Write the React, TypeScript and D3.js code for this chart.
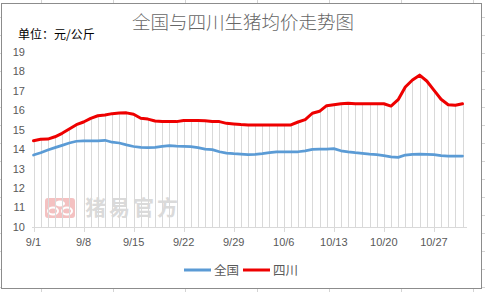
import React from "react";
import * as d3 from "d3";

const title = "全国与四川生猪均价走势图";
const unitLabel = "单位：元/公斤";
const seriesNames = ["全国", "四川"];
const seriesColors = ["#5b9bd5", "#ee0000"];
const startDate = "2017-09-01";
const endDate = "2017-11-01"; // exclusive

const nationalValues = [
  13.70, 13.82, 13.96, 14.08, 14.20, 14.32, 14.41, 14.43, 14.43, 14.43,
  14.46, 14.36, 14.32, 14.22, 14.14, 14.10, 14.08, 14.10, 14.15, 14.18,
  14.16, 14.15, 14.13, 14.08, 14.01, 13.98, 13.87, 13.80, 13.77, 13.75,
  13.72, 13.74, 13.77, 13.82, 13.86, 13.86, 13.87, 13.87, 13.92, 13.99,
  14.01, 14.01, 14.03, 13.92, 13.86, 13.82, 13.79, 13.75, 13.72, 13.67,
  13.61, 13.58, 13.70, 13.74, 13.75, 13.74, 13.72, 13.67, 13.65, 13.65,
  13.65,
];

const sichuanValues = [
  14.44, 14.51, 14.52, 14.64, 14.82, 15.04, 15.26, 15.40, 15.59, 15.72,
  15.76, 15.83, 15.86, 15.87, 15.80, 15.59, 15.55, 15.45, 15.42, 15.42,
  15.42, 15.48, 15.48, 15.48, 15.46, 15.42, 15.42, 15.33, 15.30, 15.27,
  15.25, 15.24, 15.24, 15.24, 15.24, 15.24, 15.25, 15.40, 15.52, 15.85,
  15.95, 16.24, 16.29, 16.34, 16.36, 16.34, 16.34, 16.34, 16.34, 16.34,
  16.22, 16.55, 17.20, 17.56, 17.81, 17.51, 17.04, 16.57, 16.29, 16.26,
  16.34,
];

const xTickLabels = ["9/1", "9/8", "9/15", "9/22", "9/29", "10/6", "10/13", "10/20", "10/27"];
const yTicks = [10, 11, 12, 13, 14, 15, 16, 17, 18, 19];
const watermarkText = "猪易官方";

const W = 485;
const H = 292;
const cjk = "'Noto Sans CJK SC', 'Noto Sans', sans-serif";
const latin = "'Liberation Sans', Arial, sans-serif";

export default function App() {
  const parse = d3.timeParse("%Y-%m-%d");
  const dates = d3.timeDay.range(parse(startDate)!, parse(endDate)!);
  const x = d3
    .scaleTime()
    .domain([dates[0], dates[dates.length - 1]])
    .range([33.5, 462.5]);
  const y = d3.scaleLinear().domain([10, 19]).range([227, 52]);

  const parseTick = d3.timeParse("%Y/%m/%d");
  const tickDates = xTickLabels.map((t) => parseTick("2017/" + t)!);

  const line = d3
    .line<number>()
    .x((_, i) => x(dates[i]))
    .y((v) => y(v))
    .curve(d3.curveLinear);

  const data = [nationalValues, sichuanValues];

  // spreadsheet background grid
  const colLines = [41.5, 113.5, 185.5, 257.5, 329.5, 401.5, 473.5];
  const rowLines = d3.range(-1, 300, 18).map((v) => v + 0.5);

  return (
    <svg
      width={W}
      height={H}
      style={{ position: "fixed", left: 0, top: 0, display: "block" }}
    >
      <rect x={0} y={0} width={W} height={H} fill="#ffffff" />
      {colLines.map((cx, i) => (
        <line key={"c" + i} x1={cx} x2={cx} y1={0} y2={H} stroke="#d4d4d4" />
      ))}
      {rowLines.map((ry, i) => (
        <line key={"r" + i} x1={0} x2={W} y1={ry} y2={ry} stroke="#d4d4d4" />
      ))}
      <rect x={1.5} y={3.5} width={480} height={285} fill="#ffffff" stroke="#8c8c8c" />

      {/* title */}
      <text
        x={243}
        y={29}
        textAnchor="middle"
        fontFamily={cjk}
        fontWeight={300}
        fontSize={18.5}
        fill="#666666"
      >
        {title}
      </text>
      <text x={18} y={39} fontFamily={cjk} fontSize={12} fill="#000000">
        {unitLabel}
      </text>

      {/* watermark */}
      <g opacity={0.7}>
        <rect x={45} y={198} width={30} height={20} rx={3} fill="#f0a8a8" />
        <ellipse cx={60} cy={203.5} rx={5} ry={3} fill="#ffffff" />
        <ellipse cx={53} cy={211} rx={5} ry={3.5} fill="none" stroke="#ffffff" strokeWidth={2} />
        <ellipse cx={67} cy={211} rx={5} ry={3.5} fill="none" stroke="#ffffff" strokeWidth={2} />
      </g>
      <text
        x={85}
        y={215}
        fontFamily={cjk}
        fontWeight={700}
        fontSize={21}
        fill="#dadada"
        letterSpacing={3}
      >
        {watermarkText}
      </text>

      {/* y tick labels */}
      {yTicks.map((t) => (
        <text
          key={"y" + t}
          x={25}
          y={y(t)}
          dy="0.35em"
          textAnchor="end"
          fontFamily={latin}
          fontSize={11}
          fill="#595959"
        >
          {t}
        </text>
      ))}

      {/* drop lines */}
      {dates.map((d, i) => (
        <line
          key={"dl" + i}
          x1={Math.round(x(d)) + 0.5}
          x2={Math.round(x(d)) + 0.5}
          y1={y(Math.max(nationalValues[i], sichuanValues[i]))}
          y2={y(10)}
          stroke="#d9d9d9"
          strokeWidth={1}
        />
      ))}

      {/* x axis */}
      <line x1={32} x2={467} y1={227.5} y2={227.5} stroke="#d9d9d9" />
      {tickDates.map((d, i) => (
        <g key={"xt" + i}>
          <line
            x1={Math.round(x(d)) + 0.5}
            x2={Math.round(x(d)) + 0.5}
            y1={227}
            y2={232}
            stroke="#d9d9d9"
          />
          <text
            x={x(d)}
            y={246}
            textAnchor="middle"
            fontFamily={latin}
            fontSize={11}
            fill="#595959"
          >
            {xTickLabels[i]}
          </text>
        </g>
      ))}

      {/* series */}
      {data.map((vals, si) => (
        <path
          key={"s" + si}
          d={line(vals) || ""}
          fill="none"
          stroke={seriesColors[si]}
          strokeWidth={si === 1 ? 3 : 2.75}
          strokeLinejoin="round"
          strokeLinecap="round"
        />
      ))}

      {/* legend */}
      <g>
        <line x1={184} x2={211} y1={270} y2={270} stroke={seriesColors[0]} strokeWidth={3} />
        <text x={214} y={274.5} fontFamily={cjk} fontSize={12.5} fill="#595959">
          {seriesNames[0]}
        </text>
        <line x1={243} x2={270} y1={270} y2={270} stroke={seriesColors[1]} strokeWidth={3} />
        <text x={273} y={274.5} fontFamily={cjk} fontSize={12.5} fill="#595959">
          {seriesNames[1]}
        </text>
      </g>
    </svg>
  );
}
